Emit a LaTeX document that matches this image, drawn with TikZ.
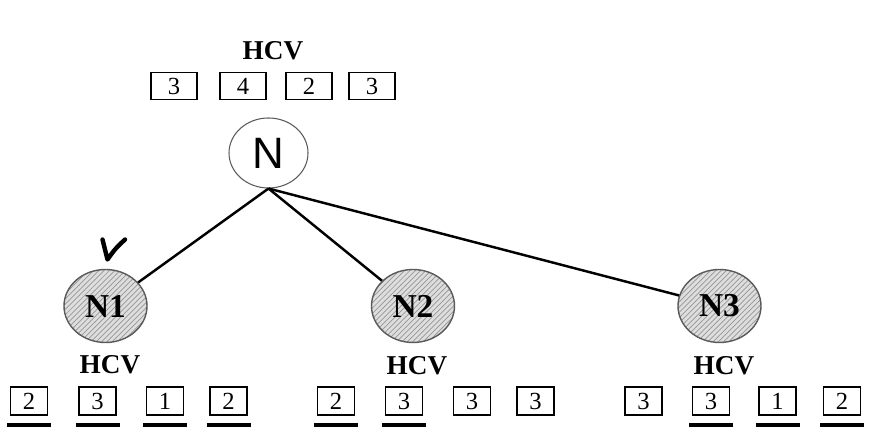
\documentclass[tikz,border=0pt]{standalone}
\usepackage{fontspec}
\setmainfont{Liberation Serif}
\newfontfamily\fonteSemSerifa{Liberation Sans}
\usetikzlibrary{patterns, shapes.geometric}
\definecolor{corNo}{RGB}{222, 222, 222}
\definecolor{corHachura}{RGB}{150, 150, 150}
\definecolor{bordaNo}{RGB}{ 90,  90,  90}

\tikzset{
  raiz/.style={ellipse, draw=bordaNo, line width=0.6pt, fill=white,
               minimum width=1.58cm, minimum height=1.40cm, inner sep=0pt,
               font=\fonteSemSerifa\fontsize{25}{25}\selectfont},
  filho/.style={ellipse, draw=bordaNo, line width=0.8pt,
                preaction={fill=corNo}, pattern=north east lines,
                pattern color=corHachura,
                minimum width=1.66cm, minimum height=1.46cm, inner sep=0pt,
                font=\bfseries\fontsize{19}{19}\selectfont},
  rotulo/.style={font=\bfseries\fontsize{15.5}{15.5}\selectfont},
  caixaTopo/.style={draw, line width=1pt, minimum width=0.92cm,
                    minimum height=0.54cm, inner sep=0pt,
                    font=\fontsize{14}{14}\selectfont},
  caixa/.style={draw, line width=1pt, minimum width=0.74cm,
                minimum height=0.56cm, inner sep=0pt,
                font=\fontsize{14}{14}\selectfont},
  aresta/.style={line width=1.4pt},
  sublinhado/.style={line width=2.3pt}
}

\begin{document}
\begin{tikzpicture}
  \useasboundingbox (0,0) rectangle (17.58,8.76);

  %% ================================================================
  %%  RAIZ N e seu vetor HCV
  %% ================================================================
  \node[rotulo] (hcvN) at (5.46, 7.74) {HCV};
  \node[caixaTopo] (n1) at (3.48, 7.04) {3};
  \node[caixaTopo] (n2) at (4.86, 7.04) {4};
  \node[caixaTopo] (n3) at (6.18, 7.04) {2};
  \node[caixaTopo] (n4) at (7.44, 7.04) {3};

  \node[raiz] (N) at (5.37, 5.70) {N};

  %% ================================================================
  %%  FILHOS
  %% ================================================================
  \node[filho] (N1) at ( 2.11, 2.64) {N1};
  \node[filho] (N2) at ( 8.26, 2.64) {N2};
  \node[filho] (N3) at (14.39, 2.64) {N3};

  \draw[aresta] (N.south) -- (N1);
  \draw[aresta] (N.south) -- (N2);
  \draw[aresta] (N.south) -- (N3);

  % marca de escolhido sobre N1
  \draw[line width=2.5pt, line cap=round, line join=round]
    (2.05, 3.97) .. controls (2.09, 3.78) .. (2.15, 3.57)
    .. controls (2.30, 3.78) .. (2.50, 3.97);

  %% ================================================================
  %%  VETORES HCV dos filhos
  %% ================================================================
  % N1
  \node[rotulo] (hcv1) at (2.20, 1.46) {HCV};
  \node[caixa] (a1) at (0.58, 0.74) {2};
  \node[caixa] (a2) at (1.95, 0.74) {3};
  \node[caixa] (a3) at (3.30, 0.74) {1};
  \node[caixa] (a4) at (4.57, 0.74) {2};

  % N2
  \node[rotulo] (hcv2) at (8.34, 1.44) {HCV};
  \node[caixa] (b1) at ( 6.72, 0.74) {2};
  \node[caixa] (b2) at ( 8.08, 0.74) {3};
  \node[caixa] (b3) at ( 9.44, 0.74) {3};
  \node[caixa] (b4) at (10.71, 0.74) {3};

  % N3
  \node[rotulo] (hcv3) at (14.48, 1.44) {HCV};
  \node[caixa] (c1) at (12.87, 0.74) {3};
  \node[caixa] (c2) at (14.22, 0.74) {3};
  \node[caixa] (c3) at (15.55, 0.74) {1};
  \node[caixa] (c4) at (16.84, 0.74) {2};

  % sublinhados
  \draw[sublinhado] ([yshift=-0.18cm]a1.south) ++(-0.44,0) -- ++(0.88,0);
  \draw[sublinhado] ([yshift=-0.18cm]a2.south) ++(-0.44,0) -- ++(0.88,0);
  \draw[sublinhado] ([yshift=-0.18cm]a3.south) ++(-0.44,0) -- ++(0.88,0);
  \draw[sublinhado] ([yshift=-0.18cm]a4.south) ++(-0.44,0) -- ++(0.88,0);
  \draw[sublinhado] ([yshift=-0.18cm]b1.south) ++(-0.44,0) -- ++(0.88,0);
  \draw[sublinhado] ([yshift=-0.18cm]b2.south) ++(-0.44,0) -- ++(0.88,0);
  \draw[sublinhado] ([yshift=-0.18cm]c2.south) ++(-0.44,0) -- ++(0.88,0);
  \draw[sublinhado] ([yshift=-0.18cm]c3.south) ++(-0.44,0) -- ++(0.88,0);
  \draw[sublinhado] ([yshift=-0.18cm]c4.south) ++(-0.44,0) -- ++(0.88,0);

\end{tikzpicture}
\end{document}
